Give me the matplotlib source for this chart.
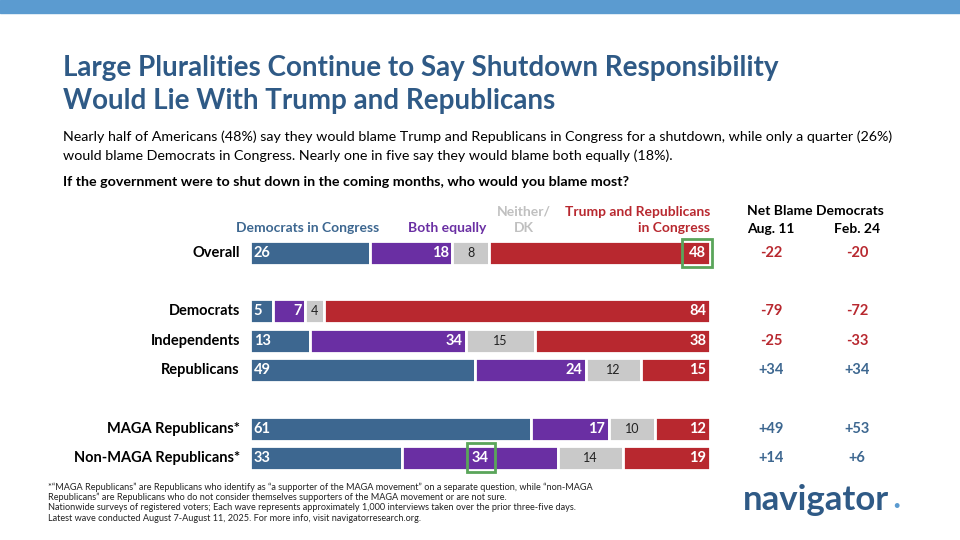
import matplotlib
matplotlib.use("Agg")
import matplotlib.pyplot as plt
from matplotlib.patches import Rectangle

groups = ["Overall", "Democrats", "Independents", "Republicans", "MAGA Republicans*", "Non-MAGA Republicans*"]
dems = [26, 5, 13, 49, 61, 33]
both = [18, 7, 34, 24, 17, 34]
neither = [8, 4, 15, 12, 10, 14]
trump = [48, 84, 38, 15, 12, 19]
net_aug = ["-22", "-79", "-25", "+34", "+49", "+14"]
net_feb = ["-20", "-72", "-33", "+34", "+53", "+6"]

row_y = [253, 311, 341, 370, 429, 458]  # pixel centers (layout)
BLUE, PURPLE, GRAY, RED = "#3d6790", "#6a2fa3", "#c9c9c9", "#b8282f"
TITLE = "#2f5a86"
F = "Lato"

fig = plt.figure(figsize=(9.6, 5.4), dpi=100)
W, H = 960, 540
bg = fig.add_axes([0, 0, 1, 1]); bg.set_xlim(0, W); bg.set_ylim(H, 0); bg.axis("off")
bg.set_zorder(2)
bg.add_patch(Rectangle((0, 0), W, 13, color="#5b9bd0"))

def t(x, y, s, **kw):
    kw.setdefault("family", F)
    bg.text(x, y, s, **kw)

t(63, 68, "Large Pluralities Continue to Say Shutdown Responsibility", fontsize=20, weight="bold", color=TITLE, va="center")
t(63, 101, "Would Lie With Trump and Republicans", fontsize=20, weight="bold", color=TITLE, va="center")
t(63, 137, "Nearly half of Americans (48%) say they would blame Trump and Republicans in Congress for a shutdown, while only a quarter (26%)", fontsize=10.3, va="center")
t(63, 156, "would blame Democrats in Congress. Nearly one in five say they would blame both equally (18%).", fontsize=10.3, va="center")
t(63, 182, "If the government were to shut down in the coming months, who would you blame most?", fontsize=10.3, weight="bold", va="center")

t(308, 228, "Democrats in Congress", fontsize=10, weight="bold", color=BLUE, ha="center", va="center")
t(447, 228, "Both equally", fontsize=10, weight="bold", color=PURPLE, ha="center", va="center")
t(524, 212, "Neither/", fontsize=10, weight="bold", color="#c0c0c0", ha="center", va="center")
t(524, 228, "DK", fontsize=10, weight="bold", color="#c0c0c0", ha="center", va="center")
t(710, 212, "Trump and Republicans", fontsize=10, weight="bold", color=RED, ha="right", va="center")
t(710, 228, "in Congress", fontsize=10, weight="bold", color=RED, ha="right", va="center")
t(815, 211, "Net Blame Democrats", fontsize=10, weight="bold", ha="center", va="center")
t(771, 229, "Aug. 11", fontsize=10, weight="bold", ha="center", va="center")
t(857, 229, "Feb. 24", fontsize=10, weight="bold", ha="center", va="center")

ax = fig.add_axes([250 / W, 0, 460 / W, 1])
ax.set_zorder(1)
ax.set_xlim(0, 100); ax.set_ylim(H, 0); ax.axis("off")
for i, g in enumerate(groups):
    y = row_y[i]
    left = 0
    for vals, col, tc in [(dems, BLUE, "white"), (both, PURPLE, "white"), (neither, GRAY, "#222222"), (trump, RED, "white")]:
        v = vals[i]
        ax.barh(y, v, left=left, height=24, color=col, edgecolor="white", linewidth=2)
        if col == BLUE:
            ax.text(left + 0.8, y, str(v), color=tc, fontsize=10.5, weight="bold", family=F, va="center", ha="left")
        elif col == GRAY or (col == PURPLE and i == 5):
            ax.text(left + v / 2, y, str(v), color=tc, fontsize=9 if col == GRAY else 10.5,
                    weight="normal" if col == GRAY else "bold", family=F, va="center", ha="center")
        else:
            ax.text(left + v - 0.8, y, str(v), color=tc, fontsize=10.5, weight="bold", family=F, va="center", ha="right")
        left += v
    t(240, y, g, fontsize=10.5, weight="bold", ha="right", va="center")
    for x, s in [(771, net_aug[i]), (857, net_feb[i])]:
        t(x, y, s, fontsize=10.5, weight="bold", ha="center", va="center", color=RED if s.startswith("-") else BLUE)

bg.add_patch(Rectangle((682, 239), 30, 28, fill=False, edgecolor="#5aa55a", lw=2))
bg.add_patch(Rectangle((467, 443), 28, 29, fill=False, edgecolor="#5aa55a", lw=2))

foot = ["*\u201cMAGA Republicans\u201d are Republicans who identify as \u201ca supporter of the MAGA movement\u201d on a separate question, while \u201cnon-MAGA",
        "Republicans\u201d are Republicans who do not consider themselves supporters of the MAGA movement or are not sure.",
        "Nationwide surveys of registered voters; Each wave represents approximately 1,000 interviews taken over the prior three-five days.",
        "Latest wave conducted August 7-August 11, 2025. For more info, visit navigatorresearch.org."]
for k, s in enumerate(foot):
    t(48, 487 + k * 10.5, s, fontsize=6.6, va="center", color="#222222")
t(743, 500, "navigator", fontsize=25, weight="bold", color=TITLE, va="center")
t(893, 506, "\u2022", fontsize=8, weight="bold", color="#5b9bd0", va="center")

fig.savefig("out.png", dpi=100)
